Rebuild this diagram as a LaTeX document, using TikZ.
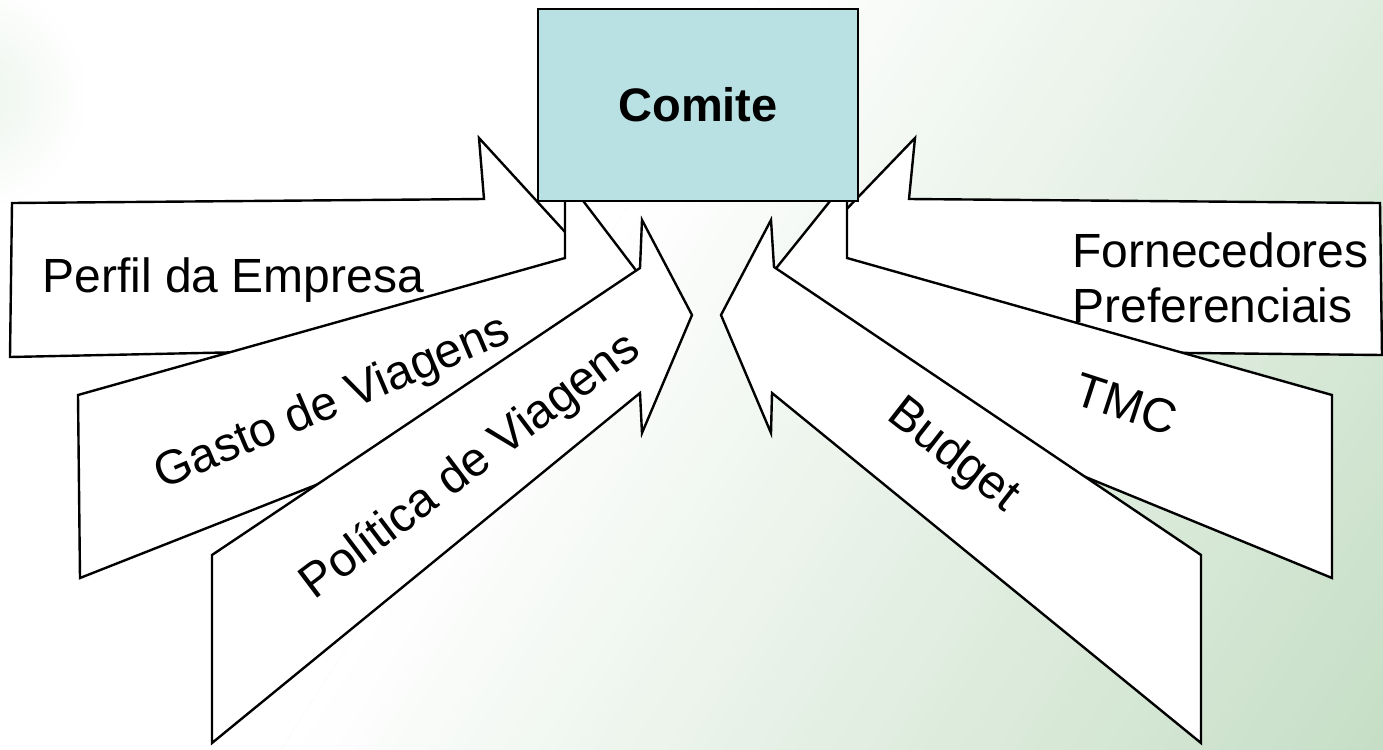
\documentclass[tikz,border=0pt]{standalone}
\usepackage{fontspec}
\setmainfont{Liberation Sans}
\usetikzlibrary{calc}
\definecolor{bgg}{RGB}{198,222,198}
\definecolor{bgl}{RGB}{236,244,236}
\definecolor{boxc}{RGB}{185,224,227}
\tikzset{
  blockarrow/.style={draw=black, fill=white, line width=1.2pt, line join=miter},
  lbl/.style={inner sep=0pt, font=\fontsize{24}{27.5}\selectfont},
  comitebox/.style={draw=black, fill=boxc, line width=1.2pt, inner sep=0pt,
    minimum width=160pt, minimum height=96pt, font=\fontsize{23.5}{27.5}\selectfont\bfseries},
}
\begin{document}
\begin{tikzpicture}[x=0.5pt, y=-0.5pt]
\useasboundingbox (0,0) rectangle (1383,750);
% background
\begin{scope}
  \clip (0,0) rectangle (1383,750);
  \fill[bgg] (0,0) rectangle (1383,750);
  \coordinate (gA) at (600,250);
  \coordinate (gB) at (1383,750);
  \fill[white] ($(gA)+(-1076,1686)$) -- ($(gA)+(1076,-1686)$)
     -- ($(gA)+(1076,-1686)+(-2529,-1614)$) -- ($(gA)+(-1076,1686)+(-2529,-1614)$) -- cycle;
  \foreach \i in {0,...,59}{
    \pgfmathsetmacro\ta{\i/60}
    \pgfmathsetmacro\tb{(\i+1.05)/60}
    \pgfmathsetmacro\pc{100*(\i+0.5)/60}
    \fill[bgg!\pc!white] ($(gA)!\ta!(gB)+(-1076,1686)$) -- ($(gA)!\ta!(gB)+(1076,-1686)$)
      -- ($(gA)!\tb!(gB)+(1076,-1686)$) -- ($(gA)!\tb!(gB)+(-1076,1686)$) -- cycle;
  }
  \shade[inner color=bgl, outer color=white] (-30,95) circle (120);
\end{scope}
% left arrows (back to front)
\draw[blockarrow] (12,203) -- (484,199) -- (479,138) -- (598,268) -- (484,400) -- (486,347) -- (10,357) -- cycle;
\draw[blockarrow] (78,395) -- (565,258) -- (565,177) -- (660,302) -- (600,400) -- (600,373) -- (80,578) -- cycle;
\draw[blockarrow] (212,555) -- (640,268) -- (642,220) -- (692,315) -- (642,433) -- (640,393) -- (212,743) -- cycle;
% right arrows (back to front)
\draw[blockarrow] (1380,203) -- (909,199) -- (915,138) -- (790,268) -- (911,398) -- (909,350) -- (1382,355) -- cycle;
\draw[blockarrow] (1332,395) -- (847,258) -- (847,180) -- (745,307) -- (800,395) -- (800,360) -- (1332,578) -- cycle;
\draw[blockarrow] (1201,555) -- (774,267) -- (771,220) -- (721,315) -- (771,433) -- (772,393) -- (1201,743) -- cycle;
% central box
\node[comitebox] (comite) at (698,105) {Comite};
% labels
\node[lbl, anchor=base west] (perfil) at (42,292) {Perfil da Empresa};
\node[lbl, anchor=base west] (forn1) at (1072,267) {Fornecedores};
\node[lbl, anchor=base west] (forn2) at (1072,322) {Preferenciais};
\node[lbl, rotate=23] (gasto) at (333,404) {Gasto de Viagens};
\node[lbl, rotate=37] (politica) at (471,467) {Política de Viagens};
\node[lbl, rotate=-38] (budget) at (953,456) {Budget};
\node[lbl, rotate=-18] (tmc) at (1126,404) {TMC};
\end{tikzpicture}
\end{document}
